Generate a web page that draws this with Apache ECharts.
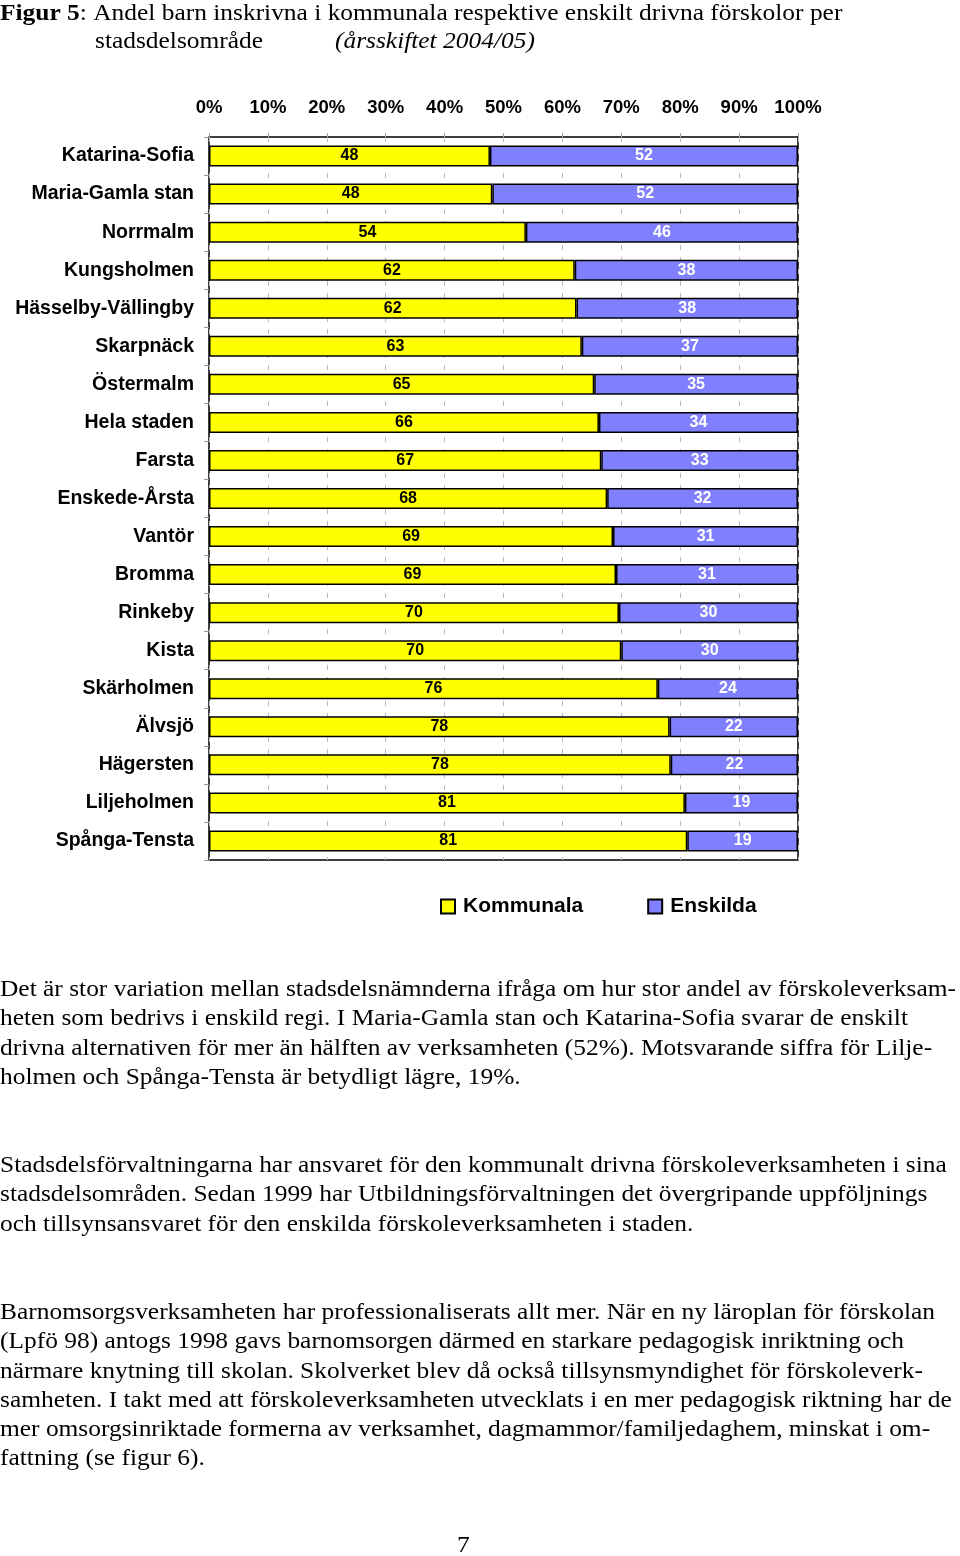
<!DOCTYPE html>
<html>
<head>
<meta charset="utf-8">
<script src="https://cdn.jsdelivr.net/npm/echarts@6/dist/echarts.min.js"></script>
<style>
  html, body { margin: 0; padding: 0; background: #fff; }
  #chart { width: 960px; height: 1556px; }
</style>
</head>
<body>
<div id="chart"></div>
<script>
// ---- data ----
const categories = ['Katarina-Sofia', 'Maria-Gamla stan', 'Norrmalm', 'Kungsholmen', 'Hässelby-Vällingby',
  'Skarpnäck', 'Östermalm', 'Hela staden', 'Farsta', 'Enskede-Årsta', 'Vantör', 'Bromma', 'Rinkeby',
  'Kista', 'Skärholmen', 'Älvsjö', 'Hägersten', 'Liljeholmen', 'Spånga-Tensta'];
const kommunala = [47.7, 48.1, 53.8, 62.1, 62.4, 63.3, 65.4, 66.2, 66.6, 67.6, 68.6, 69.1, 69.6, 70.0, 76.2, 78.2, 78.4, 80.8, 81.2];
const enskilda  = [52.3, 51.9, 46.2, 37.9, 37.6, 36.7, 34.6, 33.8, 33.4, 32.4, 31.4, 30.9, 30.4, 30.0, 23.8, 21.8, 21.6, 19.2, 18.8];
const xTicks = [0, 10, 20, 30, 40, 50, 60, 70, 80, 90, 100];
const seriesNames = ['Kommunala', 'Enskilda'];

const titleLine1Bold = 'Figur 5';
const titleLine1 = ': Andel barn inskrivna i kommunala respektive enskilt drivna förskolor per';
const titleLine2a = 'stadsdelsområde';
const titleLine2b = '(årsskiftet 2004/05)';
const paragraph1 = [
  'Det är stor variation mellan stadsdelsnämnderna ifråga om hur stor andel av förskoleverksam-',
  'heten som bedrivs i enskild regi. I Maria-Gamla stan och Katarina-Sofia svarar de enskilt',
  'drivna alternativen för mer än hälften av verksamheten (52%). Motsvarande siffra för Lilje-',
  'holmen och Spånga-Tensta är betydligt lägre, 19%.'
];
const paragraph2 = [
  'Stadsdelsförvaltningarna har ansvaret för den kommunalt drivna förskoleverksamheten i sina',
  'stadsdelsområden. Sedan 1999 har Utbildningsförvaltningen det övergripande uppföljnings',
  'och tillsynsansvaret för den enskilda förskoleverksamheten i staden.'
];
const paragraph3 = [
  'Barnomsorgsverksamheten har professionaliserats allt mer. När en ny läroplan för förskolan',
  '(Lpfö 98) antogs 1998 gavs barnomsorgen därmed en starkare pedagogisk inriktning och',
  'närmare knytning till skolan. Skolverket blev då också tillsynsmyndighet för förskoleverk-',
  'samheten. I takt med att förskoleverksamheten utvecklats i en mer pedagogisk riktning har de',
  'mer omsorgsinriktade formerna av verksamhet, dagmammor/familjedaghem, minskat i om-',
  'fattning (se figur 6).'
];
const pageNumber = '7';

// ---- layout ----
const SERIF = '"Liberation Serif", "Times New Roman", serif';
const SANS = '"Liberation Sans", Arial, sans-serif';
const FS = 22.5, SX = 1.13;

function textEl(str, x, y, extra) {
  return {
    type: 'text', x: x, y: y, scaleX: SX, scaleY: 1,
    style: Object.assign({
      text: str, fontFamily: SERIF, fontSize: FS, fill: '#000',
      align: 'left', verticalAlign: 'middle', textAlign: 'left', textVerticalAlign: 'middle'
    }, extra || {})
  };
}

const graphics = [];
graphics.push(textEl('{b|' + titleLine1Bold + '}{r|' + titleLine1 + '}', 0, 14, {
  rich: {
    b: { fontFamily: SERIF, fontSize: FS, fontWeight: 'bold', fill: '#000' },
    r: { fontFamily: SERIF, fontSize: FS, fill: '#000' }
  }
}));
graphics.push(textEl(titleLine2a, 95, 42));
graphics.push(textEl(titleLine2b, 335, 42, { fontStyle: 'italic' }));

function addPara(lines, y0) {
  const lh = 29.3;
  lines.forEach((l, i) => graphics.push(textEl(l, 0, y0 + i * lh)));
}
addPara(paragraph1, 990);
addPara(paragraph2, 1166);
addPara(paragraph3, 1313);
graphics.push(textEl(pageNumber, 457, 1546));

const chart = echarts.init(document.getElementById('chart'), null, { renderer: 'canvas' });

const labelFmt = p => Math.round(p.value);

chart.setOption({
  backgroundColor: '#fff',
  animation: false,
  grid: {
    left: 209, right: 162, top: 137, bottom: 696,
    show: true, borderColor: '#000', borderWidth: 1.5, backgroundColor: 'transparent'
  },
  legend: {
    data: seriesNames,
    left: 435, top: 891,
    itemWidth: 14, itemHeight: 14, itemGap: 64,
    icon: 'rect',
    textStyle: { fontFamily: SANS, fontSize: 21, fontWeight: 'bold', color: '#000', padding: [0, 0, 0, 3] }
  },
  xAxis: {
    type: 'value', position: 'top', min: 0, max: 100, interval: 10,
    axisLine: { show: false },
    axisTick: { show: true, length: 4, lineStyle: { color: '#999' } },
    axisLabel: {
      margin: 20, fontFamily: SANS, fontSize: 18.5, fontWeight: 'bold', color: '#000',
      formatter: v => (xTicks.indexOf(v) >= 0 ? v + '%' : '')
    },
    splitLine: { show: true, lineStyle: { color: '#bbb', type: [5, 7], width: 1 } }
  },
  yAxis: {
    type: 'category', data: categories, inverse: true,
    axisLine: { show: false },
    axisTick: { show: true, length: 5, lineStyle: { color: '#999' } },
    axisLabel: { margin: 15, fontFamily: SANS, fontSize: 19.5, fontWeight: 'bold', color: '#000' }
  },
  series: [
    {
      name: seriesNames[0], type: 'bar', stack: 'total', data: kommunala, barWidth: 21,
      itemStyle: { color: '#ffff00', borderColor: '#000', borderWidth: 1.5 },
      label: { show: true, position: 'inside', formatter: labelFmt, fontFamily: SANS, fontSize: 16, fontWeight: 'bold', color: '#000' }
    },
    {
      name: seriesNames[1], type: 'bar', stack: 'total', data: enskilda, barWidth: 21,
      itemStyle: { color: '#8080ff', borderColor: '#000', borderWidth: 1.5 },
      label: { show: true, position: 'inside', formatter: labelFmt, fontFamily: SANS, fontSize: 16, fontWeight: 'bold', color: '#fff' }
    }
  ],
  graphic: graphics
});
</script>
</body>
</html>
